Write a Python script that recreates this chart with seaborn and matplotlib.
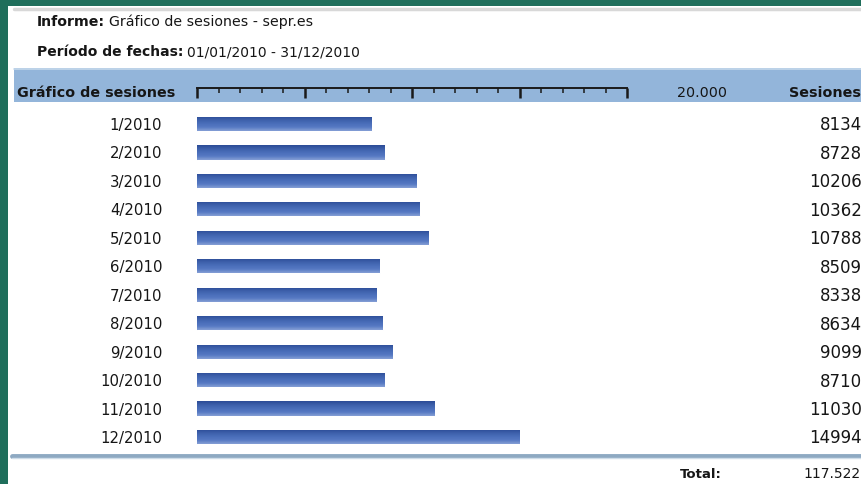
import numpy as np
import pandas as pd
import matplotlib
matplotlib.use("Agg")
import matplotlib.pyplot as plt
from matplotlib.patches import Rectangle
from matplotlib.lines import Line2D
from matplotlib.colors import LinearSegmentedColormap
from matplotlib.ticker import MultipleLocator
import seaborn as sns

# Monthly sessions for sepr.es, 2010
months = ["1/2010", "2/2010", "3/2010", "4/2010", "5/2010", "6/2010",
          "7/2010", "8/2010", "9/2010", "10/2010", "11/2010", "12/2010"]
sessions = [8134, 8728, 10206, 10362, 10788, 8509,
            8338, 8634, 9099, 8710, 11030, 14994]
total_label = "117.522"
scale_max = 20000
scale_max_label = "20.000"

report_name = "Gráfico de sesiones - sepr.es"
date_range = "01/01/2010 - 31/12/2010"

df = pd.DataFrame({"mes": months, "sesiones": sessions})

sns.set_theme(style="white")
plt.rcParams["font.family"] = ["DejaVu Sans"]
TXT = "#161616"

W, H = 861, 484
fig = plt.figure(figsize=(W / 100, H / 100), dpi=100)
fig.patch.set_facecolor("#1f6e5b")
renderer = fig.canvas.get_renderer()


def fx(px):
    return px / W


def fy(py):
    return 1 - py / H


def label_value(x_px, y_px, label, value, size):
    """Bold label followed directly by a regular value on the same line."""
    t = fig.text(fx(x_px), fy(y_px), label, fontsize=size, fontweight="bold",
                 va="center", ha="left", color=TXT)
    right = t.get_window_extent(renderer).x1
    fig.text((right + 4) / W, fy(y_px), value, fontsize=size, va="center",
             ha="left", color=TXT)


# white report panel
fig.patches.append(Rectangle((fx(8), 0), 1 - fx(8), fy(6), transform=fig.transFigure,
                             facecolor="white", edgecolor="none", zorder=0))
fig.lines.append(Line2D([fx(14), 1], [fy(9), fy(9)], transform=fig.transFigure,
                        color="#d8d8d8", lw=2.5, zorder=1))

# report header lines
label_value(37, 22, "Informe:", report_name, 10.2)
label_value(37, 52, "Período de fechas:", date_range, 10.0)

# blue column-header band
fig.patches.append(Rectangle((fx(14), fy(102)), 1 - fx(14), fy(68) - fy(102),
                             transform=fig.transFigure, facecolor="#93b5da",
                             edgecolor="none", zorder=1))
fig.lines.append(Line2D([fx(14), 1], [fy(68.5), fy(68.5)], transform=fig.transFigure,
                        color="#c5d8ec", lw=1.2, zorder=2))
fig.text(fx(17), fy(93), "Gráfico de sesiones", fontsize=10.3, fontweight="bold",
         va="center", ha="left", zorder=3, color=TXT)
fig.text(fx(702), fy(93), scale_max_label, fontsize=10.3, va="center", ha="center",
         zorder=3, color=TXT)
fig.text(fx(861), fy(93), "Sesiones", fontsize=10.3, fontweight="bold",
         va="center", ha="right", zorder=3, color=TXT)

# scale ruler inside the header band
x0, x1 = 197, 627
sax = fig.add_axes([fx(x0), fy(88), fx(x1 - x0), 0.0001], zorder=4)
sax.set_xlim(0, scale_max)
sax.set_facecolor("none")
for s in ["top", "left", "right"]:
    sax.spines[s].set_visible(False)
sax.spines["bottom"].set_color("#1a1a1a")
sax.spines["bottom"].set_linewidth(1.4)
sax.xaxis.set_major_locator(MultipleLocator(5000))
sax.xaxis.set_minor_locator(MultipleLocator(1000))
sax.tick_params(axis="x", which="major", direction="out", length=7, width=1.8,
                color="#1a1a1a", labelbottom=False, bottom=True)
sax.tick_params(axis="x", which="minor", direction="out", length=3.5, width=1.1,
                color="#1a1a1a", bottom=True)
sax.set_yticks([])

# bar axes
row_top, row_bot = 124, 437
step = (row_bot - row_top) / (len(months) - 1)
ax = fig.add_axes([fx(x0), fy(row_bot + step / 2), fx(x1 - x0), (row_bot - row_top + step) / H],
                  zorder=3)
ax.set_facecolor("none")
sns.barplot(data=df, x="sesiones", y="mes", orient="h", color="#4a6fba",
            width=0.5, ax=ax, saturation=1)
ax.set_xlim(0, scale_max)
ax.set_ylim(len(months) - 0.5, -0.5)
for s in ax.spines.values():
    s.set_visible(False)
ax.set_xlabel("")
ax.set_ylabel("")
ax.set_xticks([])
ax.tick_params(axis="y", length=0, pad=25, labelsize=10.7, labelcolor=TXT)

# vertical gradient on each bar
cmap = LinearSegmentedColormap.from_list(
    "barshade", ["#2b4a96", "#3d60ab", "#4a6eba", "#5679c3", "#86a0d6"])
grad = np.linspace(0, 1, 64).reshape(-1, 1)
for p in list(ax.patches):
    bx, by = p.get_x(), p.get_y()
    bw, bh = p.get_width(), p.get_height()
    im = ax.imshow(grad, cmap=cmap, aspect="auto", interpolation="bicubic",
                   extent=(bx, bx + bw, by + bh, by), zorder=p.get_zorder() + 0.1)
    im.set_clip_path(p)
ax.set_xlim(0, scale_max)
ax.set_ylim(len(months) - 0.5, -0.5)

# session counts on the right
trans = matplotlib.transforms.blended_transform_factory(fig.transFigure, ax.transData)
for i, v in enumerate(sessions):
    ax.text(fx(862), i + 0.05, f"{v}", transform=trans, ha="right", va="center",
            fontsize=12, color=TXT, clip_on=False)

# footer rule and total
fig.lines.append(Line2D([fx(12), 1], [fy(455.5), fy(455.5)], transform=fig.transFigure,
                        color="#8ea9c2", lw=3.5, zorder=2))
fig.lines.append(Line2D([fx(12), 1], [fy(458), fy(458)], transform=fig.transFigure,
                        color="#cfdde9", lw=1.0, zorder=2))
fig.text(fx(722), fy(474), "Total:", fontsize=9.5, fontweight="bold", va="center",
         ha="right", color=TXT)
fig.text(fx(861), fy(474), total_label, fontsize=10, va="center", ha="right", color=TXT)

fig.savefig("out.png", dpi=100, facecolor=fig.get_facecolor())
